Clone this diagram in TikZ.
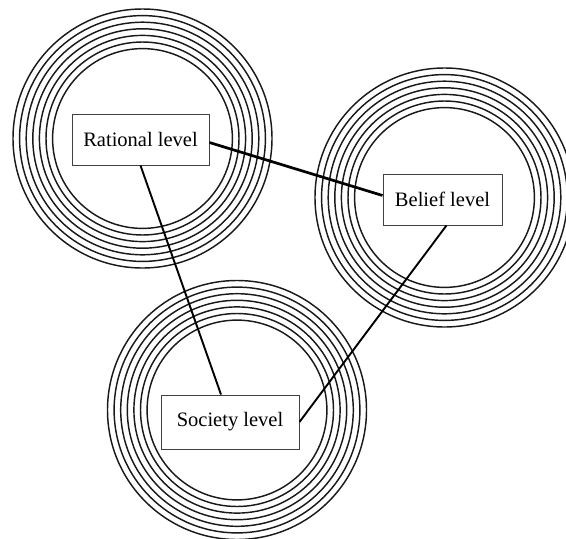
\documentclass[tikz,border=0pt]{standalone}
\usepackage{fontspec}
\setmainfont{Liberation Serif}
\begin{document}
\begin{tikzpicture}[x=1pt,y=-1pt,
  levelbox/.style={draw=black!75, line width=0.9pt, fill=white, inner sep=0pt,
    minimum height=51pt, font=\fontsize{20.5}{23}\selectfont},
  ring/.style={line width=1.45pt, black!90},
  link/.style={line width=1.9pt, black},
  thicklink/.style={line width=2.7pt, black}]
\useasboundingbox (0,0) rectangle (566,539);
\begin{scope}
\clip (0,0) rectangle (566,539);
\foreach \cx/\cy in {142.5/138.5, 444.5/197.5, 237/410}{
  \foreach \i in {0,...,6}{
    \draw[ring] (\cx,\cy) circle ({129.5-\i*6.6});
  }
}
\end{scope}
\node[levelbox, minimum width=137pt] (r) at (140.5,139.5) {Rational level};
\node[levelbox, minimum width=119pt] (b) at (442.5,199.5) {Belief level};
\node[levelbox, minimum width=138pt, minimum height=54pt] (s) at (230,422) {Society level};
\draw[thicklink] ([yshift=-3pt]r.east) -- ([yshift=4pt]b.west);
\draw[link] (r.south) -- ([xshift=-9pt]s.north);
\draw[link] ([xshift=4pt]b.south) -- (s.east);
\end{tikzpicture}
\end{document}
